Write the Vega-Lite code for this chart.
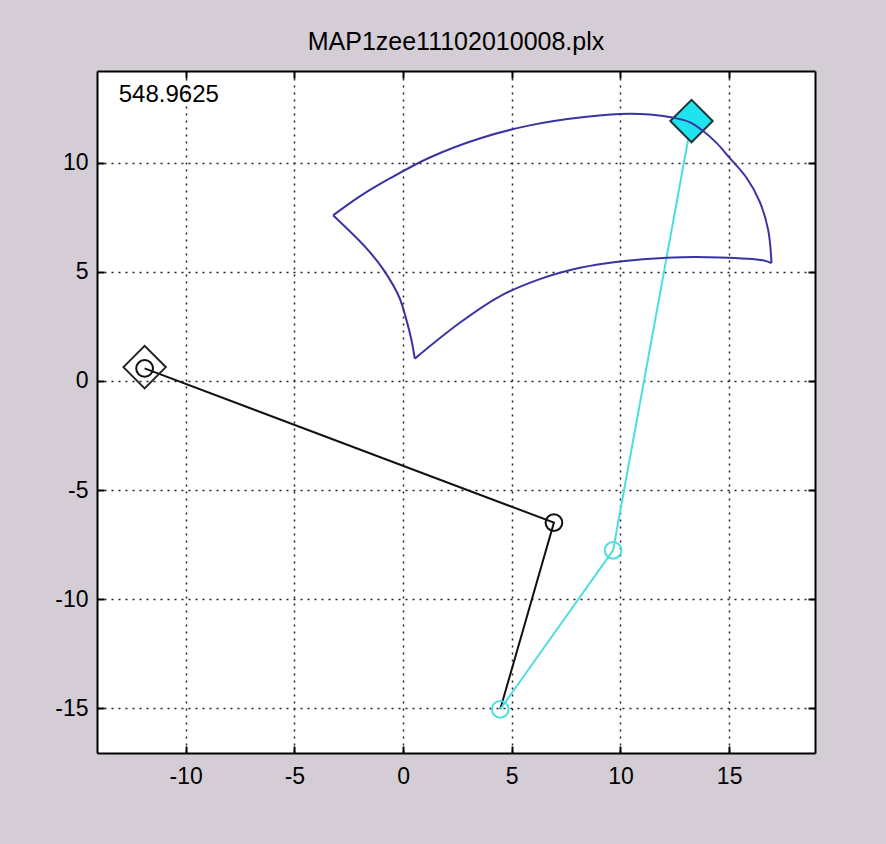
{
  "$schema": "https://vega.github.io/schema/vega-lite/v6.json",
  "width": 718,
  "height": 682,
  "autosize": {"type": "none"},
  "padding": {"left": 97, "top": 71, "right": 71, "bottom": 91},
  "background": "#d5cdd6",
  "title": {"text": "MAP1zee11102010008.plx", "fontSize": 25, "font": "Liberation Sans", "fontWeight": "normal", "color": "black", "offset": 15},
  "config": {
    "view": {"fill": "white", "stroke": null},
    "axis": {"labelFont": "Liberation Sans", "labelFontSize": 23, "labelColor": "black", "labelFlush": false, "domainColor": "black", "domainWidth": 2, "tickColor": "black", "tickWidth": 2, "tickSize": -7, "titleFontSize": 0, "labelExpr": "'' + datum.value"}
  },
  "datasets": {
    "fan": [
      {"edge": "outer", "i": 1, "x": -3.22, "y": 7.58}, {"edge": "outer", "i": 2, "x": -1.99, "y": 8.45}, {"edge": "outer", "i": 3, "x": -0.61, "y": 9.27},
      {"edge": "outer", "i": 4, "x": 1.23, "y": 10.23}, {"edge": "outer", "i": 5, "x": 3.52, "y": 11.10}, {"edge": "outer", "i": 6, "x": 5.83, "y": 11.70},
      {"edge": "outer", "i": 7, "x": 8.14, "y": 12.06}, {"edge": "outer", "i": 8, "x": 9.97, "y": 12.22}, {"edge": "outer", "i": 9, "x": 11.35, "y": 12.20},
      {"edge": "outer", "i": 10, "x": 12.40, "y": 12.06}, {"edge": "outer", "i": 11, "x": 13.18, "y": 11.85}, {"edge": "outer", "i": 12, "x": 13.73, "y": 11.50},
      {"edge": "outer", "i": 13, "x": 14.42, "y": 10.90}, {"edge": "outer", "i": 14, "x": 15.03, "y": 10.20}, {"edge": "outer", "i": 15, "x": 15.80, "y": 9.30},
      {"edge": "outer", "i": 16, "x": 16.41, "y": 8.20}, {"edge": "outer", "i": 17, "x": 16.80, "y": 6.89}, {"edge": "outer", "i": 18, "x": 16.95, "y": 5.39},
      {"edge": "bottom", "i": 18, "x": 16.95, "y": 5.39}, {"edge": "bottom", "i": 19, "x": 16.55, "y": 5.52}, {"edge": "bottom", "i": 20, "x": 14.57, "y": 5.65},
      {"edge": "bottom", "i": 21, "x": 12.14, "y": 5.64}, {"edge": "bottom", "i": 22, "x": 9.97, "y": 5.47}, {"edge": "bottom", "i": 23, "x": 8.14, "y": 5.18},
      {"edge": "bottom", "i": 24, "x": 6.29, "y": 4.66}, {"edge": "bottom", "i": 25, "x": 4.45, "y": 3.87}, {"edge": "bottom", "i": 26, "x": 2.61, "y": 2.66},
      {"edge": "bottom", "i": 27, "x": 0.54, "y": 1.02},
      {"edge": "inner", "i": 27, "x": 0.54, "y": 1.02}, {"edge": "inner", "i": 28, "x": 0.39, "y": 1.85}, {"edge": "inner", "i": 29, "x": 0.16, "y": 2.77},
      {"edge": "inner", "i": 30, "x": -0.18, "y": 3.84}, {"edge": "inner", "i": 31, "x": -0.88, "y": 5.06}, {"edge": "inner", "i": 32, "x": -1.62, "y": 6.00},
      {"edge": "inner", "i": 33, "x": -3.22, "y": 7.58}
    ],
    "arms": [
      {"arm": "black", "i": 1, "x": -11.89, "y": 0.57},
      {"arm": "black", "i": 2, "x": 6.94, "y": -6.49},
      {"arm": "black", "i": 3, "x": 4.47, "y": -15.04},
      {"arm": "cyan", "i": 1, "x": 4.47, "y": -15.04},
      {"arm": "cyan", "i": 2, "x": 9.66, "y": -7.76},
      {"arm": "cyan", "i": 3, "x": 13.27, "y": 11.90}
    ],
    "circles": [
      {"arm": "black", "x": -11.89, "y": 0.57},
      {"arm": "black", "x": 6.94, "y": -6.49},
      {"arm": "cyan", "x": 4.47, "y": -15.04},
      {"arm": "cyan", "x": 9.66, "y": -7.76}
    ],
    "diamonds": [
      {"arm": "black", "x": -11.89, "y": 0.63},
      {"arm": "cyan", "x": 13.27, "y": 11.90}
    ],
    "label": [
      {"x": -13.08, "y": 12.77, "text": "548.9625"}
    ]
  },
  "resolve": {"axis": {"x": "independent", "y": "independent"}},
  "layer": [
    {
      "data": {"name": "arms"},
      "mark": {"type": "line", "strokeWidth": 2},
      "encoding": {
        "x": {"field": "x", "type": "quantitative", "scale": {"domain": [-14.08, 18.95], "nice": false, "zero": false},
          "axis": {"orient": "bottom", "values": [-10, -5, 0, 5, 10, 15], "title": null, "grid": true, "gridColor": "#222222", "gridDash": [2, 5], "gridWidth": 1.5, "gridOpacity": 1, "labelPadding": 19}},
        "y": {"field": "y", "type": "quantitative", "scale": {"domain": [-17.04, 14.19], "nice": false, "zero": false},
          "axis": {"orient": "left", "values": [-15, -10, -5, 0, 5, 10], "title": null, "grid": true, "gridColor": "#222222", "gridDash": [2, 5], "gridWidth": 1.5, "gridOpacity": 1, "labelPadding": 16}},
        "detail": {"field": "arm"},
        "order": {"field": "i"},
        "color": {"field": "arm", "type": "nominal", "scale": {"domain": ["black", "cyan"], "range": ["#111111", "#4ddede"]}, "legend": null}
      }
    },
    {
      "data": {"name": "circles"},
      "mark": {"type": "point", "shape": "circle", "filled": false, "size": 280, "strokeWidth": 2, "opacity": 1},
      "encoding": {
        "x": {"field": "x", "type": "quantitative",
          "axis": {"orient": "top", "values": [-10, -5, 0, 5, 10, 15], "title": null, "labels": false, "grid": false}},
        "y": {"field": "y", "type": "quantitative",
          "axis": {"orient": "right", "values": [-15, -10, -5, 0, 5, 10], "title": null, "labels": false, "grid": false}},
        "color": {"field": "arm", "type": "nominal", "scale": {"domain": ["black", "cyan"], "range": ["#111111", "#4ddede"]}, "legend": null}
      }
    },
    {
      "data": {"name": "diamonds"},
      "mark": {"type": "point", "shape": "diamond", "size": 1800, "strokeWidth": 2, "opacity": 1, "filled": true},
      "encoding": {
        "x": {"field": "x", "type": "quantitative", "axis": null},
        "y": {"field": "y", "type": "quantitative", "axis": null},
        "fill": {"field": "arm", "type": "nominal", "scale": {"domain": ["black", "cyan"], "range": ["transparent", "#1fe3ee"]}, "legend": null},
        "stroke": {"field": "arm", "type": "nominal", "scale": {"domain": ["black", "cyan"], "range": ["#222222", "#1c3636"]}, "legend": null}
      }
    },
    {
      "data": {"name": "fan"},
      "mark": {"type": "line", "strokeWidth": 2, "color": "#3a34a2", "interpolate": "catmull-rom"},
      "encoding": {
        "x": {"field": "x", "type": "quantitative", "axis": null},
        "y": {"field": "y", "type": "quantitative", "axis": null},
        "detail": {"field": "edge"},
        "order": {"field": "i"}
      }
    },
    {
      "data": {"name": "label"},
      "mark": {"type": "text", "align": "left", "baseline": "alphabetic", "fontSize": 24, "font": "Liberation Sans", "color": "black"},
      "encoding": {
        "x": {"field": "x", "type": "quantitative", "axis": null},
        "y": {"field": "y", "type": "quantitative", "axis": null},
        "text": {"field": "text"}
      }
    }
  ]
}
